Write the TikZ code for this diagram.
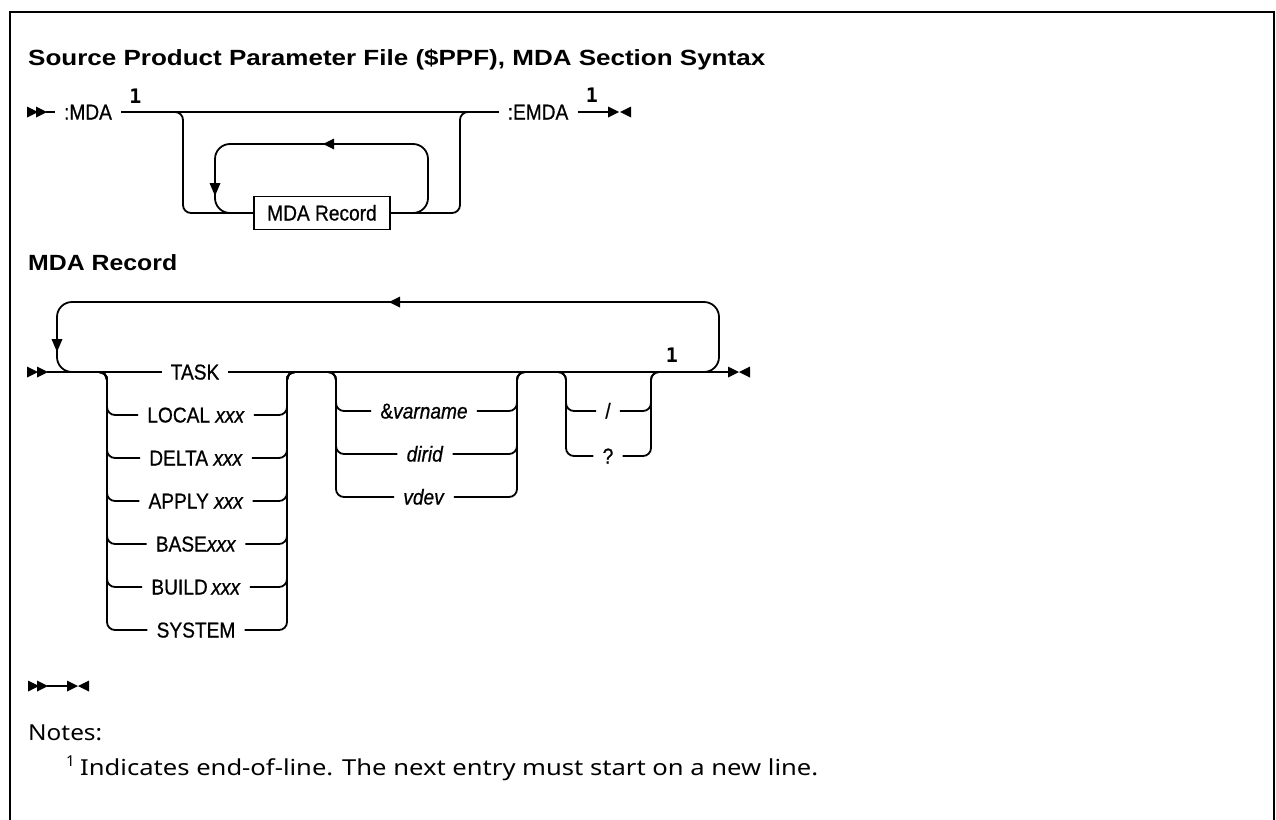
\documentclass[tikz,border=0pt]{standalone}
\usepackage{fontspec}
\usepackage{graphicx}
\setmainfont{Noto Sans}
\newfontfamily\lblfont{Liberation Sans}[FakeBold=0.7, FakeStretch=0.89]
\newfontfamily\numfont{DejaVu Sans Mono}
\newfontfamily\ttlfont{Liberation Sans}
\newcommand\fitw[2]{\resizebox{#1}{\height}{#2}}
\newcommand\rtri[2]{\fill (#1,#2-5.5) -- (#1+11,#2) -- (#1,#2+5.5) -- cycle;}
\newcommand\ltri[2]{\fill (#1,#2-5.5) -- (#1-11,#2) -- (#1,#2+5.5) -- cycle;}
\newcommand\dtri[2]{\fill (#1-5.5,#2) -- (#1+5.5,#2) -- (#1,#2+13) -- cycle;}
\tikzset{
  rail/.style={line width=1.8pt},
  lbl/.style={font=\lblfont\fontsize{21.5}{24}\selectfont, inner xsep=9pt, inner ysep=0pt, text height=15pt, text depth=0pt},
  num/.style={font=\numfont\bfseries\fontsize{20}{22}\selectfont, inner sep=0pt, anchor=base},
  txt/.style={anchor=base west, inner sep=0pt},
  hdg/.style={txt, font=\ttlfont\bfseries\fontsize{22}{24}\selectfont}
}
\begin{document}
\begin{tikzpicture}[x=1pt,y=-1pt]
\useasboundingbox (0,0) rectangle (1276,819);
\clip (0,0) rectangle (1276,819);
% frame
\draw[line width=2pt] (10,830) -- (10,12) -- (1274,12) -- (1274,830);
% title
\node[hdg] (title) at (28,65) {\fitw{737pt}{Source Product Parameter File (\$PPF), MDA Section Syntax}};

% ---------- diagram 1 ----------
\rtri{27}{112}\rtri{36}{112}
\coordinate (s1) at (46,112);
\node[lbl] (mda) at (88,112) {:MDA};
\node[num] (n1a) at (135.5,103) {1};
\node[lbl] (emda) at (538,112) {:EMDA};
\node[num] (n1b) at (592,102) {1};
\coordinate (e1) at (609,112);
\draw[rail] (s1) -- (mda.west);
\draw[rail] (mda.east) -- (emda.west);
\draw[rail] (emda.east) -- (e1);
\rtri{608}{112}\ltri{631}{112}
\node[lbl, draw, rail, fill=white, minimum width=136pt, minimum height=33pt, inner sep=0pt] (rec) at (322,213) {MDA Record};
\coordinate (b1l) at (170,112);
\coordinate (b1r) at (475,112);
\draw[rail, rounded corners=8] (b1l) -- (183,112) -- (183,213) -- (rec.west);
\draw[rail, rounded corners=8] (rec.east) -- (460,213) -- (460,112) -- (b1r);
\draw[rail, rounded corners=15] (rec.east) -- (428,213) -- (428,144) -- (215,144) -- (215,213) -- (rec.west);
\dtri{215}{183}
\ltri{334}{144}

% heading
\node[hdg] (hd) at (28,270) {\fitw{149pt}{MDA Record}};

% ---------- diagram 2 ----------
\rtri{27}{372}\rtri{37}{372}
\coordinate (s2) at (47,372);
\coordinate (e2) at (729,372);
\node[lbl] (task) at (195,372) {TASK};
\draw[rail] (s2) -- (task.west);
\draw[rail] (task.east) -- (e2);
\rtri{728}{372}\ltri{750}{372}
\node[num] (n1c) at (672,362) {1};
% repeat loop
\coordinate (lpa) at (90,372);
\coordinate (lpb) at (690,372);
\draw[rail, rounded corners=15] (lpa) -- (57,372) -- (57,302) -- (719,302) -- (719,372) -- (lpb);
\dtri{57}{339}
\ltri{400}{302}
% choice 1
\coordinate (c1l) at (95,372);
\coordinate (c1r) at (300,372);
\foreach \nm/\yy/\tx in {local/415/{LOCAL \textit{xxx}}, delta/458/{DELTA \textit{xxx}}, apply/501/{APPLY \textit{xxx}}, base/544/{BASE\textit{xxx}}, build/587/{BUILD\,\textit{xxx}}, system/630/{SYSTEM}}{
  \node[lbl] (\nm) at (196,\yy) {\tx};
  \draw[rail, rounded corners=8] (c1l) -- (107,372) -- (107,\yy) -- (\nm.west);
  \draw[rail, rounded corners=8] (\nm.east) -- (287,\yy) -- (287,372) -- (c1r);
}
% choice 2
\coordinate (c2l) at (325,372);
\coordinate (c2r) at (530,372);
\foreach \nm/\yy/\xx/\tx in {var/411/424/{\&\textit{varname}}, dirid/454/425/{\textit{dirid}}, vdev/497/424/{\textit{vdev}}}{
  \node[lbl] (\nm) at (\xx,\yy) {\tx};
  \draw[rail, rounded corners=8] (c2l) -- (336,372) -- (336,\yy) -- (\nm.west);
  \draw[rail, rounded corners=8] (\nm.east) -- (517,\yy) -- (517,372) -- (c2r);
}
% choice 3
\coordinate (c3l) at (555,372);
\coordinate (c3r) at (663,372);
\foreach \nm/\yy/\tx in {slash/411/{/}, qm/456/{?}}{
  \node[lbl] (\nm) at (608,\yy) {\tx};
  \draw[rail, rounded corners=8] (c3l) -- (566,372) -- (566,\yy) -- (\nm.west);
  \draw[rail, rounded corners=8] (\nm.east) -- (651,\yy) -- (651,372) -- (c3r);
}

% ---------- empty diagram ----------
\rtri{28}{686}\rtri{37}{686}
\coordinate (s3) at (47,686);
\coordinate (e3) at (68,686);
\draw[rail] (s3) -- (e3);
\rtri{67}{686}\ltri{89}{686}

% ---------- notes ----------
\node[txt, font=\fontsize{22}{26}\selectfont] (notes) at (28,740) {\fitw{74pt}{Notes:}};
\node[txt, font=\fontsize{15}{17}\selectfont] (fn1) at (66,766) {1};
\node[txt, font=\fontsize{22}{26}\selectfont] (fn) at (80,775) {\fitw{738pt}{Indicates end-of-line. The next entry must start on a new line.}};
\end{tikzpicture}
\end{document}
